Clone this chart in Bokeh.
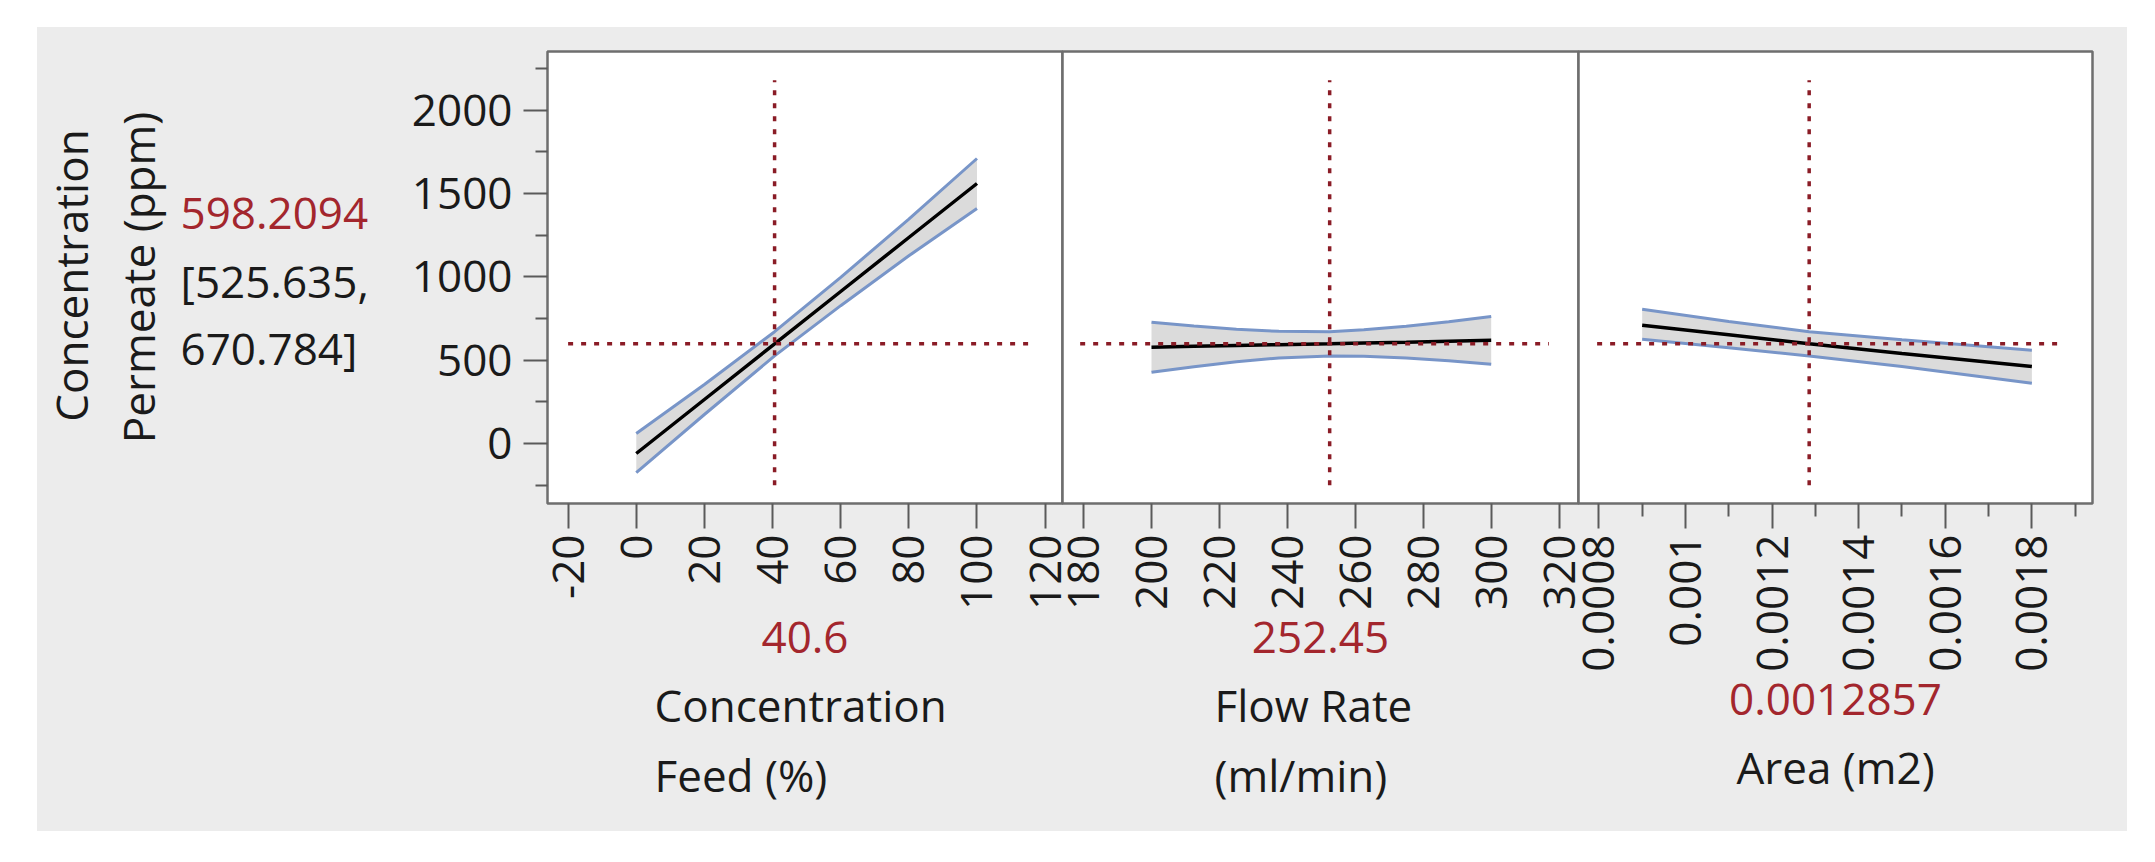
import math
from bokeh.plotting import figure
from bokeh.layouts import row
from bokeh.models import Range1d, FixedTicker, CustomJSTickFormatter, Title
from bokeh.core.properties import value
from bokeh.embed import file_html
from bokeh.resources import INLINE

# ---------------- data ----------------
y_ticks = [0, 500, 1000, 1500, 2000]
y_minor_ticks = [-250, 250, 750, 1250, 1750, 2250]
y_tick_labels = ["0", "500", "1000", "1500", "2000"]

feed_ticks = [-20, 0, 20, 40, 60, 80, 100, 120]
feed_tick_labels = ["-20", "0", "20", "40", "60", "80", "100", "120"]
flow_ticks = [180, 200, 220, 240, 260, 280, 300, 320]
flow_tick_labels = ["180", "200", "220", "240", "260", "280", "300", "320"]
area_ticks = [0.0008, 0.0010, 0.0012, 0.0014, 0.0016, 0.0018]
area_minor_ticks = [0.0009, 0.0011, 0.0013, 0.0015, 0.0017, 0.0019]
area_tick_labels = ["0.0008", "0.001", "0.0012", "0.0014", "0.0016", "0.0018"]

feed_x = [0, 20, 40.6, 60, 80, 100]
feed_pred = [-60, 264, 598.2, 912, 1236, 1560]
feed_lo = [-175, 174, 525.6, 827, 1126, 1410]
feed_hi = [60, 354, 670.8, 997, 1346, 1710]

flow_x = [200, 212.5, 225, 237.5, 252.45, 262.5, 275, 287.5, 300]
flow_pred = [578, 583, 588, 593, 598.2, 603, 608, 614, 619]
flow_lo = [428, 461, 491, 513, 525.6, 524, 513, 497, 476]
flow_hi = [728, 705, 685, 673, 670.8, 682, 703, 731, 762]

area_x = [0.0009, 0.0011, 0.0012857, 0.0015, 0.0018]
area_pred = [710, 652, 598.2, 540, 462]
area_lo = [625, 575, 525.6, 462, 362]
area_hi = [805, 732, 670.8, 622, 560]

current_y = 598.2094
current_y_label = "598.2094"
current_ci = ["[525.635,", "670.784]"]
current_x = [40.6, 252.45, 0.0012857]
current_x_labels = ["40.6", "252.45", "0.0012857"]
factor_titles = [["Concentration", "Feed (%)"], ["Flow Rate", "(ml/min)"], ["Area (m2)"]]
response_title = ["Concentration", "Permeate (ppm)"]

ref_x_extent = [[-20, 117], [179, 317], [0.000796, 0.001875]]
ref_y_extent = [-250, 2180]

# ---------------- styling ----------------
FONT = "Open Sans"
FS = "44px"
GRAY_BG = "#ececec"
RED = "#a3262d"
REF = "#8a1c26"
BLUE = "#7895c8"
TXT = "#1a1a1a"

PAGE_TOP = 27             # gray panel top (page px)
TOTAL_H = 804
FRAME_TOP_B = 24          # gray top -> frame top
FRAME_H = 452
FRAME_BOT_B = TOTAL_H - FRAME_TOP_B - FRAME_H
FRAME_W = [515, 516, 514]
OVER = 40                 # transparent overlap room for tick labels

y_range = Range1d(-360, 2352)
x_ranges = [Range1d(-26.05, 125.1), Range1d(173.8, 325.7), Range1d(0.000753, 0.00194)]


def fmt(tick_values, tick_texts):
    return CustomJSTickFormatter(args=dict(tv=tick_values, tl=tick_texts), code="""
        for (let i = 0; i < tv.length; i++) {
            if (Math.abs(tv[i] - tick) <= Math.abs(tv[i]) * 1e-9 + 1e-12) return tl[i];
        }
        return "";
    """)


def make_fig(i, left, right, with_y):
    p = figure(frame_width=FRAME_W[i], frame_height=FRAME_H,
               x_range=x_ranges[i], y_range=y_range,
               min_border_left=left, min_border_right=right,
               min_border_top=FRAME_TOP_B, min_border_bottom=FRAME_BOT_B,
               toolbar_location=None, output_backend="svg",
               y_axis_location="left" if with_y else None,
               background_fill_color="white", border_fill_color=None,
               outline_line_color="#6e6e6e", outline_line_width=2.5)
    p.xgrid.visible = False
    p.ygrid.visible = False
    return p


# ---- left text panel (response name and current value) ----
LEFT_W = 353
frame_top_page = PAGE_TOP + FRAME_TOP_B
frame_bot_page = frame_top_page + FRAME_H
BASE = PAGE_TOP + TOTAL_H
pt = figure(frame_width=LEFT_W, frame_height=FRAME_H,
            x_range=Range1d(0, LEFT_W),
            y_range=Range1d(BASE - frame_bot_page, BASE - frame_top_page),
            min_border_left=0, min_border_right=0,
            min_border_top=FRAME_TOP_B, min_border_bottom=FRAME_BOT_B,
            toolbar_location=None, output_backend="svg",
            x_axis_location=None, y_axis_location=None,
            background_fill_color=None, border_fill_color=None, outline_line_color=None)
pt.xgrid.visible = False
pt.ygrid.visible = False
pt.text(x=[33, 100], y=[BASE - 275, BASE - 277], text=response_title, angle=math.pi / 2,
        text_font=value(FONT), text_font_size=value(FS), text_color=TXT,
        text_align="center", text_baseline="middle")
pt.text(x=[143], y=[BASE - 213], text=[current_y_label],
        text_font=value(FONT), text_font_size=value(FS), text_color=RED,
        text_align="left", text_baseline="middle")
pt.text(x=[143, 143], y=[BASE - 280, BASE - 347], text=current_ci,
        text_font=value(FONT), text_font_size=value(FS), text_color=TXT,
        text_align="left", text_baseline="middle")

figs = [make_fig(0, 157, OVER, True), make_fig(1, OVER, OVER, False), make_fig(2, OVER, 35, False)]
figs[1].margin = (0, 0, 0, -2 * OVER)
figs[2].margin = (0, 0, 0, -2 * OVER)

tick_sets = [(feed_ticks, [], feed_tick_labels),
             (flow_ticks, [], flow_tick_labels),
             (area_ticks, area_minor_ticks, area_tick_labels)]

for i, p in enumerate(figs):
    t, mt, lab = tick_sets[i]
    ax = p.xaxis[0]
    ax.ticker = FixedTicker(ticks=t, minor_ticks=mt)
    ax.formatter = fmt(t, lab)
    ax.major_label_orientation = math.pi / 2
    ax.major_label_text_font = FONT
    ax.major_label_text_font_size = FS
    ax.major_label_text_color = TXT
    ax.major_label_standoff = 6
    ax.axis_line_color = None
    ax.major_tick_in = 0
    ax.major_tick_out = 25
    ax.minor_tick_in = 0
    ax.minor_tick_out = 13
    ax.major_tick_line_color = "#5a5a5a"
    ax.minor_tick_line_color = "#5a5a5a"
    ax.major_tick_line_width = 2
    ax.minor_tick_line_width = 2

ya = figs[0].yaxis[0]
ya.ticker = FixedTicker(ticks=y_ticks, minor_ticks=y_minor_ticks)
ya.formatter = fmt(y_ticks, y_tick_labels)
ya.major_label_text_font = FONT
ya.major_label_text_font_size = FS
ya.major_label_text_color = TXT
ya.major_label_standoff = 11
ya.axis_line_color = None
ya.major_tick_in = 0
ya.major_tick_out = 24
ya.minor_tick_in = 0
ya.minor_tick_out = 12
ya.major_tick_line_color = "#5a5a5a"
ya.minor_tick_line_color = "#5a5a5a"
ya.major_tick_line_width = 2
ya.minor_tick_line_width = 2

series = [(feed_x, feed_pred, feed_lo, feed_hi),
          (flow_x, flow_pred, flow_lo, flow_hi),
          (area_x, area_pred, area_lo, area_hi)]

for i, p in enumerate(figs):
    xs, pred, lo, hi = series[i]
    p.varea(x=xs, y1=lo, y2=hi, fill_color="#cfcfcf", fill_alpha=0.75)
    p.line(xs, lo, line_color=BLUE, line_width=3)
    p.line(xs, hi, line_color=BLUE, line_width=3)
    p.line(xs, pred, line_color="black", line_width=3.5)
    p.line(ref_x_extent[i], [current_y, current_y], line_color=REF, line_width=3.5,
           line_dash="5 8")
    p.line([current_x[i], current_x[i]], ref_y_extent, line_color=REF, line_width=3.5,
           line_dash="5 8")


def add_title(p, text, color, align, offset, standoff):
    p.add_layout(Title(text=text, align=align, offset=offset, standoff=standoff,
                       text_font=FONT, text_font_size=FS, text_font_style="normal",
                       text_color=color), "below")


# factor current values and names below each panel
add_title(figs[0], current_x_labels[0], RED, "center", -2, 14)
add_title(figs[0], factor_titles[0][0], TXT, "left", 107, 26)
add_title(figs[0], factor_titles[0][1], TXT, "left", 107, -10)

add_title(figs[1], current_x_labels[1], RED, "center", -4, 14)
add_title(figs[1], factor_titles[1][0], TXT, "left", 152, 26)
add_title(figs[1], factor_titles[1][1], TXT, "left", 152, -10)

add_title(figs[2], current_x_labels[2], RED, "center", -6, 14)
add_title(figs[2], factor_titles[2][0], TXT, "center", -6, 27)

layout = row(pt, *figs, spacing=0, styles={"background-color": GRAY_BG})
layout.margin = (PAGE_TOP, 0, 0, 37)

open("out.html", "w").write(file_html(layout, INLINE))
